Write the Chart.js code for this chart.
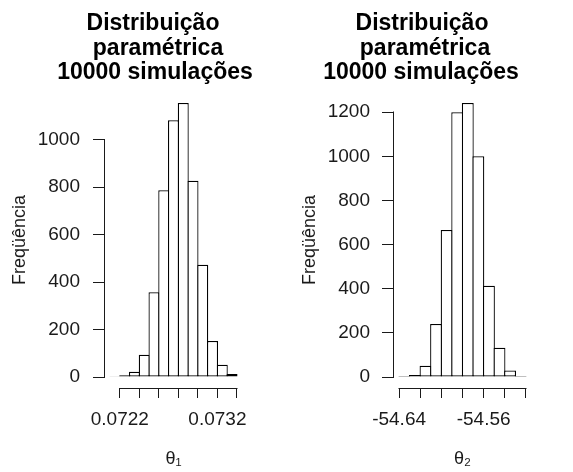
<!DOCTYPE html>
<html><head><meta charset="utf-8">
<script src="https://cdn.jsdelivr.net/npm/chart.js@4"></script>
<style>
html,body{margin:0;padding:0;background:#fff;width:573px;height:472px;overflow:hidden}
.panel{position:absolute;top:0;height:472px}
</style></head><body>
<div class="panel" style="left:0;width:287px"><canvas id="c1"></canvas></div>
<div class="panel" style="left:287px;width:286px"><canvas id="c2"></canvas></div>
<script>
// ---- data ----
const titleLines = ['Distribuição', 'paramétrica', '10000 simulações'];
const yAxisTitle = 'Freqüência';

const theta1Title = 'θ₁';
const theta1BinStart = 0.0721;
const theta1BinWidth = 0.0001;
const theta1Counts = [3, 8, 22, 94, 357, 786, 1081, 1154, 826, 473, 152, 52, 13];
const theta1Ticks = [0.0722, 0.0724, 0.0726, 0.0728, 0.0730, 0.0732, 0.0734];
const theta1TickLabels = ['0.0722', '', '', '', '', '0.0732', ''];
const theta1YTicks = [0, 200, 400, 600, 800, 1000];

const theta2Title = 'θ₂';
const theta2BinStart = -54.64;
const theta2BinWidth = 0.01;
const theta2Counts = [5, 9, 51, 240, 666, 1200, 1242, 1000, 414, 133, 30, 5];
const theta2Ticks = [-54.64, -54.62, -54.60, -54.58, -54.56, -54.54, -54.52];
const theta2TickLabels = ['-54.64', '', '', '', '-54.56', '', ''];
const theta2YTicks = [0, 200, 400, 600, 800, 1000, 1200];

// ---- styles ----
const INK = '#1a1a1a';
const FONT = '"Liberation Sans", Arial, sans-serif';

const rAxesPlugin = {
  id: 'rAxes',
  afterDraw(chart) {
    const {ctx, chartArea, scales: {x, y}} = chart;
    ctx.save();
    ctx.strokeStyle = INK;
    ctx.lineWidth = 1;
    const ax = Math.round(chartArea.left) - 0.5;
    const yt = y.ticks;
    ctx.beginPath();
    ctx.moveTo(ax, Math.round(y.getPixelForValue(yt[0].value)) + 0.5);
    ctx.lineTo(ax, Math.round(y.getPixelForValue(yt[yt.length - 1].value)) - 0.5);
    const bx = Math.round(chartArea.bottom) + 0.5;
    const xt = x.ticks;
    ctx.moveTo(Math.round(x.getPixelForValue(xt[0].value)) - 0.5, bx);
    ctx.lineTo(Math.round(x.getPixelForValue(xt[xt.length - 1].value)) + 0.5, bx);
    ctx.stroke();
    ctx.restore();
  }
};

const rTitlePlugin = {
  id: 'rTitle',
  afterDraw(chart, args, opts) {
    const {ctx} = chart;
    ctx.save();
    ctx.fillStyle = '#000';
    ctx.font = 'bold 23px ' + FONT;
    ctx.textAlign = 'center';
    ctx.textBaseline = 'alphabetic';
    opts.lines.forEach((t, i) => ctx.fillText(t, opts.xs[i], opts.baselines[i]));
    ctx.restore();
  }
};

function makePanel(id, p) {
  const centers = p.counts.map((c, i) => p.binStart + (i + 0.5) * p.binWidth);
  const data = p.counts.map((c, i) => ({x: centers[i], y: c}));
  const range = p.counts.length * p.binWidth;
  const xMin = p.binStart - 0.04 * range;
  const xMax = p.binStart + range + 0.04 * range;
  const maxC = Math.max(...p.counts);
  return new Chart(document.getElementById(id), {
    type: 'bar',
    data: {
      datasets: [{
        data: data,
        backgroundColor: '#fff',
        borderColor: '#000',
        borderWidth: 1.25,
        borderSkipped: false,
        barPercentage: 1.125,
        categoryPercentage: 1
      }]
    },
    options: {
      responsive: true,
      maintainAspectRatio: false,
      animation: false,
      events: [],
      layout: {padding: {left: 0, right: p.padRight, top: 92, bottom: 0}},
      plugins: {
        legend: {display: false},
        tooltip: {enabled: false},
        rTitle: {lines: titleLines, xs: p.titleXs, baselines: [30, 54.5, 79]}
      },
      scales: {
        x: {
          type: 'linear',
          offset: false,
          bounds: 'data',
          min: xMin,
          max: xMax,
          afterBuildTicks: s => { s.ticks = p.ticks.map(v => ({value: v})); },
          afterFit: s => { s.height = 84; },
          grid: {offset: false, drawOnChartArea: false, drawTicks: true, tickLength: 10, color: INK, lineWidth: 1},
          border: {display: false},
          ticks: {
            autoSkip: false, maxRotation: 0, minRotation: 0, padding: 10,
            color: INK, font: {family: FONT, size: 19},
            callback: (v, i) => p.tickLabels[i]
          },
          title: {display: true, text: p.xTitle, color: INK, font: {family: FONT, size: 18}, padding: {top: 0, bottom: 2}}
        },
        y: {
          type: 'linear',
          bounds: 'data',
          min: -0.04 * maxC,
          max: 1.04 * maxC,
          afterBuildTicks: s => { s.ticks = p.yTicks.map(v => ({value: v})); },
          afterFit: s => { s.width = p.yWidth; },
          grid: {drawOnChartArea: false, drawTicks: true, tickLength: 12, color: INK, lineWidth: 1},
          border: {display: false},
          ticks: {
            autoSkip: false, padding: p.yPad, color: INK, font: {family: FONT, size: 19},
            callback: v => String(v)
          },
          title: {display: true, text: yAxisTitle, color: INK, font: {family: FONT, size: 18}, padding: {top: p.yTitlePad, bottom: 0}}
        }
      }
    },
    plugins: [rAxesPlugin, rTitlePlugin]
  });
}

makePanel('c1', {
  binStart: theta1BinStart, binWidth: theta1BinWidth, counts: theta1Counts,
  ticks: theta1Ticks, tickLabels: theta1TickLabels, yTicks: theta1YTicks, xTitle: theta1Title,
  yWidth: 105, padRight: 45, yPad: 13, yTitlePad: 9, titleXs: [153, 158, 155]
});
makePanel('c2', {
  binStart: theta2BinStart, binWidth: theta2BinWidth, counts: theta2Counts,
  ticks: theta2Ticks, tickLabels: theta2TickLabels, yTicks: theta2YTicks, xTitle: theta2Title,
  yWidth: 107, padRight: 42, yPad: 12, yTitlePad: 12, titleXs: [135, 138, 134]
});
</script>
</body></html>
